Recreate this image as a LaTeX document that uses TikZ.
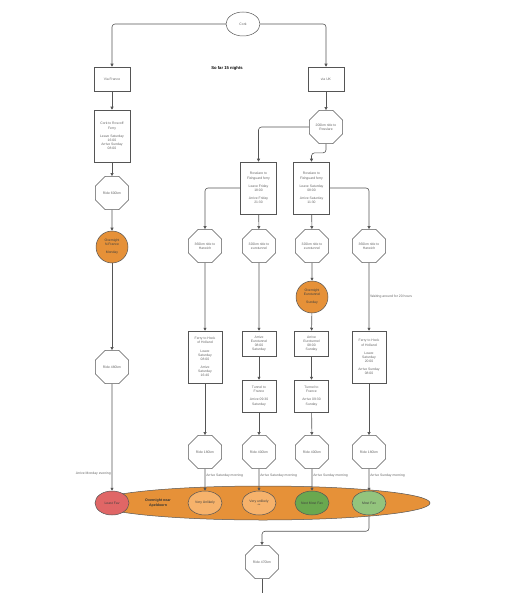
\documentclass[tikz,border=0pt]{standalone}
\usepackage{fontspec}
\setmainfont{Liberation Sans}
\usetikzlibrary{arrows.meta,shapes.geometric}
\definecolor{edgegrey}{HTML}{555555}
\definecolor{textgrey}{HTML}{666666}
\definecolor{nightorange}{HTML}{E69138}
\definecolor{leastred}{HTML}{E06666}
\definecolor{unlikelyorange}{HTML}{F6B26B}
\definecolor{nextgreen}{HTML}{6AA84F}
\definecolor{mostgreen}{HTML}{93C47D}

\begin{document}
\begin{tikzpicture}[x=1pt,y=-1pt,>={Triangle[length=3pt,width=3pt]},
  font=\fontsize{3.4}{4.1}\selectfont,
  stage/.style={rectangle,draw=edgegrey,fill=white,text=textgrey,line width=0.5pt,minimum width=36pt,align=center,inner sep=1pt},
  ride/.style={regular polygon,regular polygon sides=8,draw=edgegrey,fill=white,text=textgrey,line width=0.5pt,minimum size=36pt,align=center,inner sep=0pt},
  stay/.style={circle,draw=edgegrey,fill=nightorange,text=black!75,line width=0.5pt,minimum size=32pt,align=center,inner sep=0pt},
  fav/.style={ellipse,draw=edgegrey,text=black!75,line width=0.5pt,minimum width=34pt,minimum height=24pt,align=center,inner sep=0pt},
  link/.style={->,draw=edgegrey,line width=0.6pt,rounded corners=3pt},
  note/.style={text=textgrey,inner sep=1pt}]
\useasboundingbox (0,0) rectangle (507,593);

% start and the two routes
\node[ellipse,draw=edgegrey,fill=white,text=textgrey,line width=0.5pt,minimum width=34pt,minimum height=24pt] (cork) at (243,24) {Cork};
\node[stage,minimum height=24pt] (viafrance) at (112,79) {Via France};
\node[stage,minimum height=24pt] (viauk) at (326,79) {via UK};
\node[font=\fontsize{4.2}{5}\selectfont\bfseries] (sofar) at (227,68) {So far 15 nights};

% route via France
\node[stage,minimum height=52pt] (roscoff) at (112,136) {Cork to Roscoff\\Ferry\\[4pt]Leave Saturday\\16:00\\Arrive Sunday\\08:00};
\node[ride] (ride600) at (112,193) {Ride 600km};
\node[stay] (nfrance) at (112,247) {Overnight\\N.France\\[4pt]Monday};
\node[ride] (ride480) at (112,367) {Ride 480km};

% route via UK
\node[ride] (rosslare) at (326,127) {200km ride to\\Rosslare};
\node[stage,minimum height=52pt] (fishfri) at (258.5,188) {Rosslare to\\Fishguard ferry\\[4pt]Leave Friday\\18:00\\[4pt]Arrive Friday\\21:30};
\node[stage,minimum height=52pt] (fishsat) at (311.5,188) {Rosslare to\\Fishguard ferry\\[4pt]Leave Saturday\\08:00\\[4pt]Arrive Saturday\\11:30};
\node[ride] (harwicha) at (205,246) {360km ride to\\Harwich};
\node[ride] (tunnela) at (259,246) {320km ride to\\eurotunnel};
\node[ride] (tunnelb) at (312,246) {320km ride to\\eurotunnel};
\node[ride] (harwichb) at (369,246) {360km ride to\\Harwich};
\node[stay] (eurotunnel) at (312,297) {Overnight\\Eurotunnel\\[4pt]Sunday};
\node[stage,minimum width=34pt,minimum height=52pt] (hooka) at (205,357) {Ferry to Hook\\of Holland\\[4pt]Leave\\Saturday\\08:00\\[4pt]Arrive\\Saturday\\16:40};
\node[stage,minimum width=34pt,minimum height=25pt] (arrivesat) at (259,343.5) {Arrive\\Eurotunnel\\08:00\\Saturday};
\node[stage,minimum width=34pt,minimum height=25pt] (arrivesun) at (311.5,343.5) {Arrive\\Eurotunnel\\08:00\\Sunday};
\node[stage,minimum width=34pt,minimum height=52pt] (hookb) at (369,357) {Ferry to Hook\\of Holland\\[4pt]Leave\\Saturday\\20:00\\[4pt]Arrive Sunday\\08:00};
\node[stage,minimum width=34pt,minimum height=32pt] (trainsat) at (259,396) {Tunnel to\\France\\[4pt]Arrive 09:30\\Saturday};
\node[stage,minimum width=34pt,minimum height=32pt] (trainsun) at (311.5,396) {Tunnel to\\France\\[4pt]Arrive 09:30\\Sunday};
\node[ride] (ride180a) at (205,452) {Ride 180km};
\node[ride] (ride400a) at (259,452) {Ride 400km};
\node[ride] (ride400b) at (312,452) {Ride 400km};
\node[ride] (ride180b) at (369,452) {Ride 180km};

% overnight near Apeldoorn
\node[ellipse,draw=edgegrey,fill=nightorange,line width=0.5pt,minimum width=334pt,minimum height=34pt] (apeldoorn) at (263,503) {};
\node[font=\fontsize{3.6}{4.2}\selectfont\bfseries,text=black!80,align=center] (apeldoornlabel) at (158,503) {Overnight near\\Apeldoorn};
\node[fav,fill=leastred] (leastfav) at (112,503) {Least Fav};
\node[fav,fill=unlikelyorange] (unlikelya) at (205,503) {Very Unlikely};
\node[fav,fill=unlikelyorange] (unlikelyb) at (259,503) {Very unlikely\\**};
\node[fav,fill=nextgreen] (nextfav) at (312,503) {Next Most Fav};
\node[fav,fill=mostgreen] (mostfav) at (369,503) {Most Fav};
\node[ride] (ride470) at (262,562) {Ride 470km};
\coordinate (offpage) at (262,593);

\draw[link] (cork.west) -| (viafrance.north);
\draw[link] (cork.east) -| (viauk.north);
\draw[link] (viafrance) -- (roscoff);
\draw[link] (roscoff) -- (ride600);
\draw[link] (ride600) -- (nfrance);
\draw[link] (nfrance) -- (ride480);
\draw[link] (ride480) -- node[note,pos=0.84,left] {Arrive Monday evening} (leastfav);
\draw[link] (viauk) -- (rosslare);
\draw[link] (rosslare.west) -| (fishfri.north);
\draw[link] (rosslare.south) -- ++(0,9) -| (fishsat.north);
\draw[link] (fishfri.west) -| (harwicha.north);
\draw[link] (fishfri) -- (tunnela);
\draw[link] (fishsat) -- (tunnelb);
\draw[link] (fishsat.east) -| (harwichb.north);
\draw[link] (harwicha) -- (hooka);
\draw[link] (hooka) -- (ride180a);
\draw[link] (ride180a) -- node[note,pos=0.3,right] {Arrive Saturday morning} (unlikelya);
\draw[link] (tunnela) -- (arrivesat);
\draw[link] (arrivesat) -- (trainsat);
\draw[link] (trainsat) -- (ride400a);
\draw[link] (ride400a) -- node[note,pos=0.3,right] {Arrive Saturday morning} (unlikelyb);
\draw[link] (tunnelb) -- (eurotunnel);
\draw[link] (eurotunnel) -- (arrivesun);
\draw[link] (arrivesun) -- (trainsun);
\draw[link] (trainsun) -- (ride400b);
\draw[link] (ride400b) -- node[note,pos=0.3,right] {Arrive Sunday morning} (nextfav);
\draw[link] (harwichb) -- node[note,pos=0.5,right] {Waiting around for 20 hours} (hookb);
\draw[link] (hookb) -- (ride180b);
\draw[link] (ride180b) -- node[note,pos=0.3,right] {Arrive Sunday morning} (mostfav);
\draw[link] (mostfav.south) -- ++(0,16) -| (ride470.north);
\draw[draw=edgegrey,line width=0.6pt] (ride470) -- (offpage);
\end{tikzpicture}
\end{document}
